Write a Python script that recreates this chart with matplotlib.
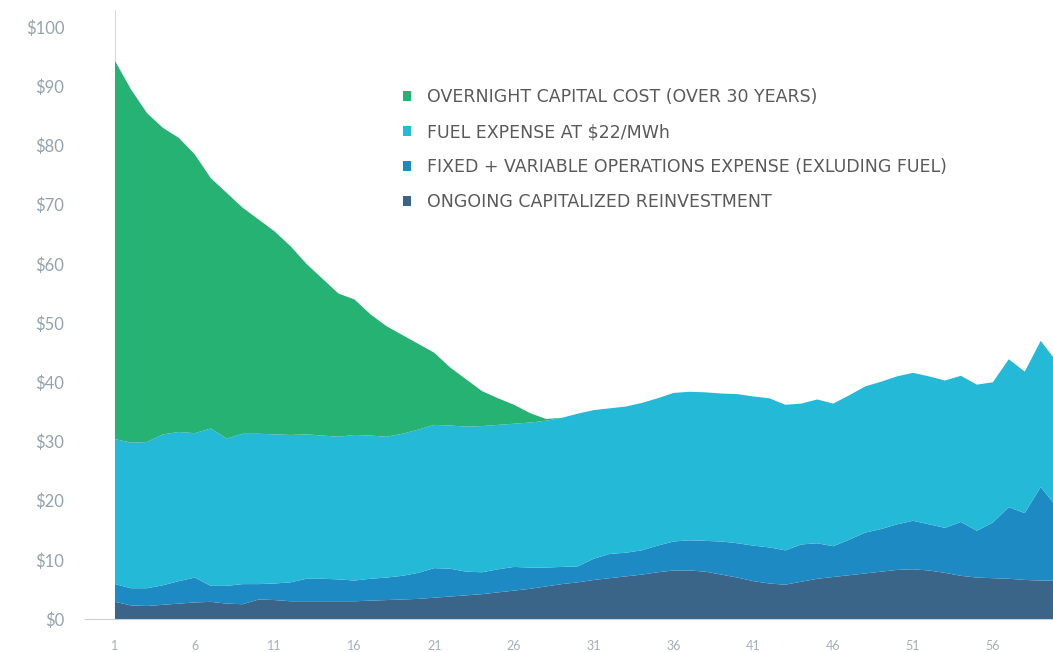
import matplotlib.pyplot as plt
from matplotlib.patches import Patch

plt.rcParams["font.family"] = ["Lato", "DejaVu Sans"]

years = list(range(1, 61))

# cost layers, $/MWh (bottom to top)
reinvestment = [2.9, 2.3, 2.2, 2.4, 2.6, 2.8, 2.9, 2.6, 2.5, 3.3,
                3.2, 3.0, 3.0, 3.0, 3.0, 3.0, 3.1, 3.2, 3.3, 3.4,
                3.6, 3.8, 4.0, 4.2, 4.5, 4.8, 5.1, 5.5, 5.9, 6.2,
                6.6, 6.9, 7.2, 7.5, 7.9, 8.2, 8.2, 8.0, 7.5, 7.0,
                6.4, 6.0, 5.8, 6.3, 6.8, 7.1, 7.4, 7.7, 8.0, 8.3,
                8.4, 8.2, 7.8, 7.3, 7.0, 6.9, 6.8, 6.6, 6.5, 6.5]
operations = [3.0, 2.9, 3.0, 3.3, 3.8, 4.2, 2.7, 3.0, 3.4, 2.6,
              2.8, 3.2, 3.8, 3.8, 3.7, 3.5, 3.7, 3.8, 4.0, 4.4,
              5.0, 4.7, 4.0, 3.7, 3.9, 4.0, 3.6, 3.2, 2.9, 2.7,
              3.6, 4.1, 4.0, 4.1, 4.5, 4.9, 5.1, 5.2, 5.6, 5.8,
              6.0, 6.1, 5.8, 6.3, 6.0, 5.2, 6.0, 6.9, 7.2, 7.7,
              8.2, 7.8, 7.6, 9.1, 7.9, 9.4, 12.1, 11.3, 15.8, 12.5]
fuel = [24.5, 24.6, 24.7, 25.5, 25.2, 24.4, 26.6, 24.9, 25.4, 25.4,
        25.2, 24.9, 24.4, 24.2, 24.1, 24.6, 24.2, 23.8, 24.0, 24.2,
        24.2, 24.2, 24.5, 24.7, 24.4, 24.2, 24.5, 24.8, 25.2, 25.8,
        25.1, 24.6, 24.7, 24.9, 24.9, 25.1, 25.1, 25.1, 25.0, 25.2,
        25.2, 25.2, 24.6, 23.8, 24.3, 24.1, 24.4, 24.7, 24.9, 25.0,
        25.0, 25.0, 24.9, 24.7, 24.7, 23.7, 25.0, 23.9, 24.7, 24.5]
capital = [63.9, 59.7, 55.6, 51.8, 49.7, 47.1, 42.3, 41.5, 38.2, 36.2,
           34.3, 31.9, 28.8, 26.5, 24.2, 22.9, 20.5, 18.7, 16.7, 14.5,
           12.2, 9.8, 8.0, 5.9, 4.5, 3.2, 1.6, 0.3] + [0.0] * 32

labels = ["ONGOING CAPITALIZED REINVESTMENT",
          "FIXED + VARIABLE OPERATIONS EXPENSE (EXLUDING FUEL)",
          "FUEL EXPENSE AT $22/MWh",
          "OVERNIGHT CAPITAL COST (OVER 30 YEARS)"]
colors = ["#3b6489", "#1e8ac4", "#24b9d6", "#26b273"]

fig = plt.figure(figsize=(10.53, 6.52), dpi=100)
ax = fig.add_axes([0.0807, 0.0506, 0.9193, 0.934])

ax.stackplot(years, reinvestment, operations, fuel, capital, colors=colors, linewidth=0)

ax.set_xlim(-0.88, 59.77)
ax.set_ylim(0, 102.9)
ax.axvline(years[0], color="#d5dadd", linewidth=0.8, zorder=0)

for side in ["top", "right", "left"]:
    ax.spines[side].set_visible(False)
ax.spines["bottom"].set_color("#c9d0d4")
ax.spines["bottom"].set_linewidth(0.8)

ax.set_yticks(range(0, 101, 10))
ax.set_yticklabels(["$" + str(v) for v in range(0, 101, 10)])
ax.set_xticks(years[::5])
ax.tick_params(axis="y", length=0, pad=15, labelsize=12, labelcolor="#93a3ad")
ax.tick_params(axis="x", length=0, pad=15, labelsize=9, labelcolor="#a3b0b8")

handles = [Patch(facecolor=c, label=l) for c, l in zip(colors, labels)][::-1]
leg = ax.legend(handles=handles, loc="upper left", bbox_to_anchor=(0.312, 0.897),
                frameon=False, prop={"family": "DejaVu Sans", "size": 12.5},
                labelcolor="#5a5a5a", handlelength=0.5, handleheight=0.5,
                handletextpad=0.9, labelspacing=0.98)

fig.savefig("out.png", dpi=100)
